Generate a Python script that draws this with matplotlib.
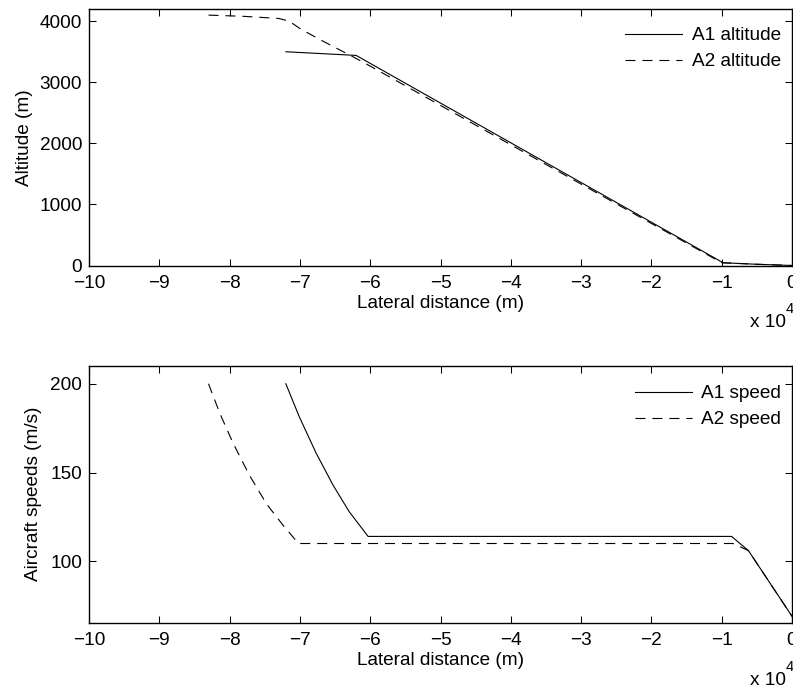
import numpy as np
import matplotlib
matplotlib.use("Agg")
import matplotlib.pyplot as plt

plt.rcParams["font.family"] = ["Liberation Sans", "DejaVu Sans"]
plt.rcParams["lines.scale_dashes"] = False

# lateral distance in metres, altitude in metres
a1_alt_x = [-72000, -62000, -9800, -5000, 0]
a1_alt_y = [3500, 3440, 45, 20, 0]
a2_alt_x = [-83000, -78000, -73000, -71500, -70000, -67000, -64000, -62000,
            -60000, -10000, -5000, 0]
a2_alt_y = [4100, 4080, 4045, 4000, 3880, 3690, 3510, 3390,
            3265, 45, 20, 0]

# speeds in m/s
a1_spd_x = [-72000, -70100, -67700, -65300, -63000, -60300, -8600, -6200, 0]
a1_spd_y = [200, 181.5, 161, 143, 128, 114, 114, 106, 69]
a2_spd_x = [-83000, -81400, -79500, -77200, -74800, -72400, -70200, -8400,
            -6200, 0]
a2_spd_y = [200, 183.4, 166.5, 148.6, 132.6, 120.3, 110, 110, 106, 69]

xticks = np.arange(-10, 1)
scale = 1e4
fs = 13.7
dash = (7.2, 5.0)

W, H = 793, 688
fig = plt.figure(figsize=(W / 100, H / 100), dpi=100)
left = 89 / W
width = (792 - 89) / W
ax1 = fig.add_axes([left, 1 - 265.5 / H, width, 256.5 / H])
ax2 = fig.add_axes([left, 1 - 622.5 / H, width, 256.5 / H])


def style(ax):
    ax.set_xlim(-10, 0)
    ax.set_xticks(xticks)
    ax.tick_params(direction="in", length=5, width=0.75, top=True, right=True,
                   labelsize=fs, colors="black")
    ax.tick_params(axis="x", pad=7)
    ax.tick_params(axis="y", pad=5)
    for s in ax.spines.values():
        s.set_linewidth(1.0)
    ax.set_xlabel("Lateral distance (m)", fontsize=fs, labelpad=2)


ax1.plot(np.array(a1_alt_x) / scale, a1_alt_y, "k-", lw=0.8,
         label="A1 altitude")
ax1.plot(np.array(a2_alt_x) / scale, a2_alt_y, "k--", lw=0.8, dashes=dash,
         label="A2 altitude")
style(ax1)
ax1.set_ylim(0, 4200)
ax1.set_yticks([0, 1000, 2000, 3000, 4000])
ax1.set_ylabel("Altitude (m)", fontsize=fs)
ax1.yaxis.set_label_coords(-0.0797, 0.5)

ax2.plot(np.array(a1_spd_x) / scale, a1_spd_y, "k-", lw=0.8,
         label="A1 speed")
ax2.plot(np.array(a2_spd_x) / scale, a2_spd_y, "k--", lw=0.8, dashes=dash,
         label="A2 speed")
style(ax2)
ax2.set_ylim(65.5, 210)
ax2.set_yticks([100, 150, 200])
ax2.set_ylabel("Aircraft speeds (m/s)", fontsize=fs)
ax2.yaxis.set_label_coords(-0.0669, 0.5)

for ax, top in ((ax1, 27), (ax2, 385)):
    ax.legend(loc="upper right", bbox_to_anchor=(781 / W, 1 - top / H),
              bbox_transform=fig.transFigure, frameon=False, fontsize=fs,
              handlelength=3.0, handletextpad=0.5, labelspacing=0.45,
              borderpad=0, borderaxespad=0)

# exponent label for the x axis
for ybase in (327, 685):
    fig.text(750 / W, 1 - ybase / H, "x 10", fontsize=fs, va="baseline")
    fig.text(786 / W, 1 - (ybase - 14) / H, "4", fontsize=10.5,
             va="baseline")

fig.savefig("out.png", dpi=100)
